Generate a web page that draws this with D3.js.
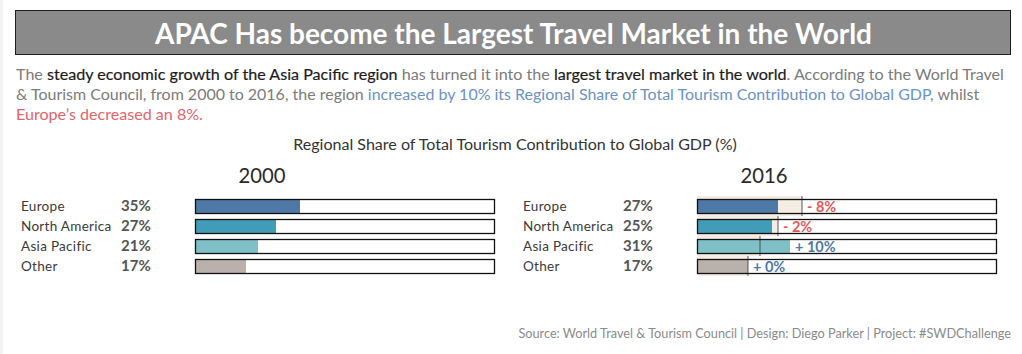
<!DOCTYPE html>
<html>
<head>
<meta charset="utf-8">
<script src="https://cdn.jsdelivr.net/npm/d3@7"></script>
<style>
  body { margin: 0; background: #fff; }
  svg { display: block; font-family: Lato, "Open Sans", sans-serif; }
</style>
</head>
<body>
<div class="chart"></div>
<script>
// data
const regions = ["Europe", "North America", "Asia Pacific", "Other"];
const share2000 = [35, 27, 21, 17];
const share2016 = [27, 25, 31, 17];
const regionColours = ["#4e79a7", "#419cb8", "#7fc0c7", "#bab0ac"];
const years = ["2000", "2016"];

const titleText = "APAC Has become the Largest Travel Market in the World";
const chartTitle = "Regional Share of Total Tourism Contribution to Global GDP (%)";
const footerText = "Source: World Travel & Tourism Council | Design: Diego Parker | Project: #SWDChallenge";
// paragraph lines, each a list of [text, kind]
const introLines = [
    [["The ", "grey"], ["steady economic growth of the Asia Pacific region", "dark"], [" has turned it into the ", "grey"],
     ["largest travel market in the world", "dark"], [". According to the World Travel", "grey"]],
    [["& Tourism Council, from 2000 to 2016, the region ", "grey"],
     ["increased by 10% its Regional Share of Total Tourism Contribution to Global GDP", "blue"], [", whilst", "grey"]],
    [["Europe\u2019s decreased an 8%.", "red"]]
];
const introWidths = [988, 963, 187];

const createVisualization = () => {
    const width = 1022, height = 354;
    const textColours = {grey: "#7b7b7b", dark: "#1c1c1c", blue: "#6a92c4", red: "#e2646a"};

    const svg = d3.select(".chart").append("svg")
        .attr("width", width)
        .attr("height", height);

    //stretch a text to a measured width by changing its font size
    const fitWidth = (sel, w) => {
        const len = sel.node().getComputedTextLength();
        const fs = parseFloat(sel.attr("font-size"));
        sel.attr("font-size", (fs * w / len).toFixed(2));
    };

    //faint page edge
    svg.append("rect").attr("x", 0).attr("y", 0).attr("width", 3).attr("height", height).attr("fill", "#f3f3f3");

    //title banner
    svg.append("rect")
        .attr("x", 15.5).attr("y", 10.5)
        .attr("width", 995).attr("height", 44)
        .attr("fill", "#8a8a8a")
        .attr("stroke", "#1e1e1e");

    const title = svg.append("text")
        .text(titleText)
        .attr("x", 513.5).attr("y", 43.5)
        .attr("text-anchor", "middle")
        .attr("font-size", 26)
        .attr("font-weight", "bold")
        .attr("fill", "#ffffff");
    fitWidth(title, 717);

    //intro paragraph
    introLines.forEach((line, i) => {
        const t = svg.append("text")
            .attr("x", 16)
            .attr("y", 80 + i * 20)
            .attr("font-size", 15);
        line.forEach(([str, kind]) => {
            t.append("tspan")
                .text(str)
                .attr("fill", textColours[kind])
                .attr("stroke", kind === "dark" ? textColours[kind] : null)
                .attr("stroke-width", kind === "dark" ? 0.2 : null);
        });
        fitWidth(t, introWidths[i]);
    });

    const sub = svg.append("text")
        .text(chartTitle)
        .attr("x", 515).attr("y", 150)
        .attr("text-anchor", "middle")
        .attr("font-size", 14)
        .attr("fill", "#333");
    fitWidth(sub, 444);

    //rows shared by both panels
    const y = d3.scaleBand()
        .domain(regions)
        .range([196, 276]);

    const panels = [
        {year: years[0], labelX: 21, pctX: 121, x0: 195, values: share2000, previous: null},
        {year: years[1], labelX: 523, pctX: 623, x0: 697, values: share2016, previous: share2000}
    ];

    panels.forEach((p) => {
        const x = d3.scaleLinear().domain([0, 100]).range([p.x0, p.x0 + 300]);
        const g = svg.append("g");

        const yr = g.append("text")
            .text(p.year)
            .attr("x", (x(0) + x(100)) / 2 - 83)
            .attr("y", 182.5)
            .attr("text-anchor", "middle")
            .attr("font-size", 20)
            .attr("fill", "#2a2a2a");
        fitWidth(yr, 47);

        const rows = g.selectAll("g.row")
            .data(regions.map((r, i) => ({region: r, value: p.values[i], prev: p.previous ? p.previous[i] : null, colour: regionColours[i]})))
            .enter().append("g")
            .attr("class", "row")
            .attr("transform", (d) => `translate(0, ${y(d.region)})`);

        const bh = y.bandwidth();

        rows.append("text")
            .text((d) => d.region)
            .attr("x", p.labelX)
            .attr("y", bh - 5)
            .attr("font-size", 13.5)
            .attr("letter-spacing", 0.3)
            .attr("fill", "#3a3a3a");

        rows.append("text")
            .text((d) => d.value + "%")
            .attr("x", p.pctX)
            .attr("y", bh - 5)
            .attr("font-size", 15)
            .attr("font-weight", "bold")
            .attr("fill", "#555");

        rows.append("rect")
            .attr("x", x(0)).attr("y", 3)
            .attr("width", x(100) - x(0)).attr("height", bh - 5)
            .attr("fill", "#fff");

        if (p.previous) {
            rows.append("rect")
                .attr("x", x(0)).attr("y", 0)
                .attr("width", (d) => x(d.prev) - x(0))
                .attr("height", bh)
                .attr("fill", "#f4ede3");
        }

        rows.append("rect")
            .attr("x", x(0)).attr("y", 3)
            .attr("width", (d) => x(d.value) - x(0))
            .attr("height", bh - 5)
            .attr("fill", (d) => d.colour);

        if (p.previous) {
            rows.append("line")
                .attr("x1", (d) => x(d.prev)).attr("x2", (d) => x(d.prev))
                .attr("y1", 0).attr("y2", bh)
                .attr("stroke", "#333")
                .attr("stroke-opacity", 0.4)
                .attr("stroke-width", 2);

            rows.append("text")
                .text((d) => {
                    const diff = d.value - d.prev;
                    return (diff < 0 ? "- " : "+ ") + Math.abs(diff) + "%";
                })
                .attr("x", (d) => x(Math.max(d.value, d.prev)) + 5)
                .attr("y", bh - 4)
                .attr("font-size", 14.5)
                .attr("font-weight", "bold")
                .attr("fill", (d) => d.value - d.prev < 0 ? "#e15759" : "#4e79a7");
        }

        rows.append("rect")
            .attr("x", x(0) + 0.5).attr("y", 3.5)
            .attr("width", x(100) - x(0) - 1).attr("height", bh - 6)
            .attr("fill", "none")
            .attr("stroke", "#111")
            .attr("stroke-width", 1.3);
    });

    const foot = svg.append("text")
        .text(footerText)
        .attr("x", 1011).attr("y", 338)
        .attr("text-anchor", "end")
        .attr("font-size", 12)
        .attr("fill", "#8a8a8a");
    fitWidth(foot, 493);
};

createVisualization();
</script>
</body>
</html>
